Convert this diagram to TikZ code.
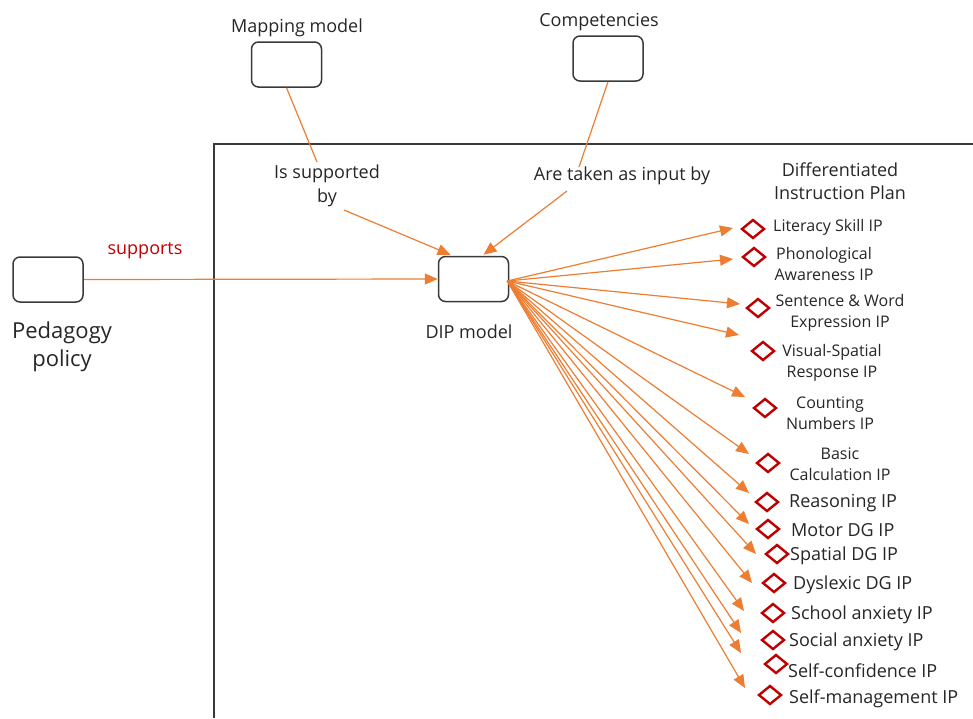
\documentclass[tikz,border=0pt]{standalone}
\usepackage{fontspec}
\setmainfont{Open Sans}
\usetikzlibrary{arrows.meta,shapes.geometric,calc}
\definecolor{linkorange}{HTML}{ED7D31}
\definecolor{markred}{HTML}{C00000}
\definecolor{boxgray}{HTML}{3A3A3A}
\definecolor{inkgray}{HTML}{262626}
\newcommand{\fsz}[2]{\fontsize{#1}{#2}\selectfont}
\begin{document}
\begin{tikzpicture}[x=1pt,y=-1pt,
  blockbox/.style={draw=boxgray, line width=1.5pt, rounded corners=7pt,
    minimum width=70pt, minimum height=45pt, inner sep=0pt, fill=white},
  link/.style={draw=linkorange, line width=1.2pt},
  linkarrow/.style={link, -{Triangle[length=13pt,width=11pt]}},
  marker/.style={diamond, draw=markred, line width=2.4pt, minimum width=23pt,
    minimum height=19pt, inner sep=0pt},
  caption/.style={text=inkgray, inner sep=0pt, font=\fsz{18}{23}},
  iplabel/.style={text=inkgray, inner sep=0pt, anchor=west, font=\fsz{18}{21}},
  iplabeltwo/.style={text=inkgray, inner sep=0pt, align=center, font=\fsz{16}{21}},
  frame/.style={draw=boxgray, line width=1.3pt}]
\useasboundingbox (0,0) rectangle (973,718);

% enclosing frame of the DIP context
\draw[frame] (973,144) -- (214,144) -- (214,718);

% blocks
\node[blockbox] (ped) at (48,279.5) {};
\node[blockbox] (map) at (286.5,64.5) {};
\node[blockbox] (comp) at (608,58.5) {};
\node[blockbox] (dip) at (473.5,279) {};

% block captions
\node[caption] (mapt) at (297,28) {Mapping model};
\node[caption] (compt) at (599,22) {Competencies};
\node[caption, font=\fsz{22}{28}, align=center] (pedt) at (62,347) {Pedagogy\\policy};
\node[caption] (dipt) at (469,332) {DIP model};
\node[caption, align=center] (plant) at (840,181) {Differentiated\\Instruction Plan};

% relation labels
\node[caption, text=markred] (supt) at (145,251) {supports};
\node[caption, align=center, font=\fsz{18}{24}] (lab1) at (327,186) {Is supported\\by};
\node[caption] (lab2) at (622,176) {Are taken as input by};

% relations into the DIP model
\coordinate (m1) at (317,162);
\coordinate (m2) at (344,210);
\draw[link] (map.south) -- (m1);
\draw[linkarrow] (m2) -- ($(dip.north)+(-23,-1)$);
\coordinate (c1) at (579,167);
\coordinate (c2) at (567,191);
\draw[link] (comp.south) -- (c1);
\draw[linkarrow] (c2) -- ($(dip.north)+(10,-1)$);
\draw[linkarrow] (ped.east) -- (dip.west);

% fan of instruction plans
\foreach \x/\y [count=\i] in {733/228, 733/259, 740/304, 739/335, 745/397,
    749/454, 749/493, 749/524, 756/554, 752/583, 744/611, 741/633, 741/653, 745/688}{
  \coordinate (t\i) at (\x,\y);
  \draw[linkarrow] ($(dip.east)+(-2,2)$) -- (t\i);
}

% plan markers
\foreach \x/\y [count=\i] in {753/229, 754/257, 758/308, 763/351, 765/408,
    768/463, 767/502, 768/529, 777/554, 774/583, 773/613, 773/640, 776/664, 770/695}{
  \node[marker] (d\i) at (\x,\y) {};
}

% plan labels
\node[iplabel, font=\fsz{16}{21}] (p1) at (773,227) {Literacy Skill IP};
\node[iplabeltwo] (p2) at (824,264) {Phonological\\Awareness IP};
\node[iplabeltwo] (p3) at (840,313) {Sentence \& Word\\Expression IP};
\node[iplabeltwo] (p4) at (832,363) {Visual-Spatial\\Response IP};
\node[iplabeltwo] (p5) at (830,413) {Counting\\Numbers IP};
\node[iplabeltwo] (p6) at (840,464) {Basic\\Calculation IP};
\node[iplabel] (p7) at (789,503) {Reasoning IP};
\node[iplabel] (p8) at (791,530) {Motor DG IP};
\node[iplabel] (p9) at (790,556) {Spatial DG IP};
\node[iplabel] (p10) at (793,585) {Dyslexic DG IP};
\node[iplabel] (p11) at (791,615) {School anxiety IP};
\node[iplabel] (p12) at (789,642) {Social anxiety IP};
\node[iplabel] (p13) at (788,671) {Self-confidence IP};
\node[iplabel] (p14) at (789,699) {Self-management IP};
\end{tikzpicture}
\end{document}
